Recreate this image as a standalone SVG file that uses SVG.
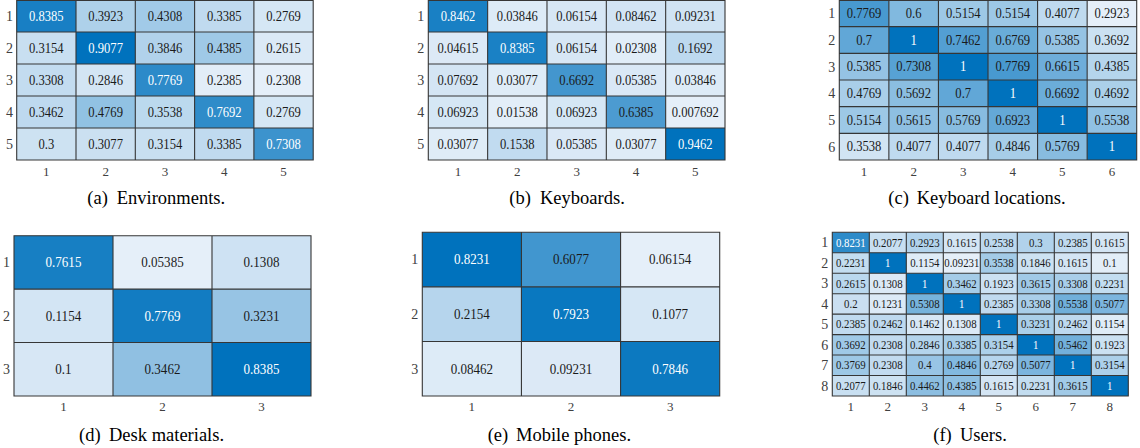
<svg xmlns="http://www.w3.org/2000/svg" width="1140" height="448" viewBox="0 0 1140 448">
<style>
  .bg { fill: #E5EFF9; }
  .c { fill: #0072BD; }
  .grid { fill: none; stroke: #363636; stroke-width: 1.1; }
  .v { font-family: "Liberation Serif", "Times New Roman", serif; font-size: 14px; text-anchor: middle; fill: #1a1a1a; }
  .vb { font-size: 14.5px; }
  .vs { font-size: 12px; }
  .w { fill: #ffffff; }
  .tick { font-family: "Liberation Serif", "Times New Roman", serif; font-size: 13px; fill: #404040; text-anchor: middle; }
  .row { font-family: "Liberation Serif", "Times New Roman", serif; font-size: 14px; fill: #404040; text-anchor: end; }
  .cap { font-family: "Liberation Serif", "Times New Roman", serif; font-size: 18.5px; fill: #000000; }
</style>

<!-- (a) Environments: 5x5 -->
<g id="panel-a">
  <rect class="bg" x="16.7" y="0.5" width="296.5" height="159.5"/>
  <g class="cells">
    <rect class="c" x="16.7" y="0" width="59.3" height="32" fill-opacity="0.898"/>
    <rect class="c" x="76" y="0" width="59.3" height="32" fill-opacity="0.239"/>
    <rect class="c" x="135.3" y="0" width="59.3" height="32" fill-opacity="0.295"/>
    <rect class="c" x="194.6" y="0" width="59.3" height="32" fill-opacity="0.159"/>
    <rect class="c" x="253.9" y="0" width="59.3" height="32" fill-opacity="0.068"/>
    <rect class="c" x="16.7" y="32" width="59.3" height="32" fill-opacity="0.125"/>
    <rect class="c" x="76" y="32" width="59.3" height="32" fill-opacity="1"/>
    <rect class="c" x="135.3" y="32" width="59.3" height="32" fill-opacity="0.227"/>
    <rect class="c" x="194.6" y="32" width="59.3" height="32" fill-opacity="0.307"/>
    <rect class="c" x="253.9" y="32" width="59.3" height="32" fill-opacity="0.045"/>
    <rect class="c" x="16.7" y="64" width="59.3" height="32" fill-opacity="0.148"/>
    <rect class="c" x="76" y="64" width="59.3" height="32" fill-opacity="0.079"/>
    <rect class="c" x="135.3" y="64" width="59.3" height="32" fill-opacity="0.807"/>
    <rect class="c" x="194.6" y="64" width="59.3" height="32" fill-opacity="0.011"/>
    <rect class="c" x="16.7" y="96" width="59.3" height="32" fill-opacity="0.170"/>
    <rect class="c" x="76" y="96" width="59.3" height="32" fill-opacity="0.364"/>
    <rect class="c" x="135.3" y="96" width="59.3" height="32" fill-opacity="0.182"/>
    <rect class="c" x="194.6" y="96" width="59.3" height="32" fill-opacity="0.795"/>
    <rect class="c" x="253.9" y="96" width="59.3" height="32" fill-opacity="0.068"/>
    <rect class="c" x="16.7" y="128" width="59.3" height="32" fill-opacity="0.102"/>
    <rect class="c" x="76" y="128" width="59.3" height="32" fill-opacity="0.114"/>
    <rect class="c" x="135.3" y="128" width="59.3" height="32" fill-opacity="0.125"/>
    <rect class="c" x="194.6" y="128" width="59.3" height="32" fill-opacity="0.159"/>
    <rect class="c" x="253.9" y="128" width="59.3" height="32" fill-opacity="0.739"/>
  </g>
  <path class="grid" d="M16.7 0.5H313.2V160H16.7Z M76 0.5V160 M135.3 0.5V160 M194.6 0.5V160 M253.9 0.5V160 M16.7 32H313.2 M16.7 64H313.2 M16.7 96H313.2 M16.7 128H313.2"/>
  <g transform="scale(0.9 1)">
    <text class="v w" x="51.50" y="20.7">0.8385</text>
    <text class="v" x="117.39" y="20.7">0.3923</text>
    <text class="v" x="183.28" y="20.7">0.4308</text>
    <text class="v" x="249.17" y="20.7">0.3385</text>
    <text class="v" x="315.06" y="20.7">0.2769</text>
    <text class="v" x="51.50" y="52.7">0.3154</text>
    <text class="v w" x="117.39" y="52.7">0.9077</text>
    <text class="v" x="183.28" y="52.7">0.3846</text>
    <text class="v" x="249.17" y="52.7">0.4385</text>
    <text class="v" x="315.06" y="52.7">0.2615</text>
    <text class="v" x="51.50" y="84.7">0.3308</text>
    <text class="v" x="117.39" y="84.7">0.2846</text>
    <text class="v w" x="183.28" y="84.7">0.7769</text>
    <text class="v" x="249.17" y="84.7">0.2385</text>
    <text class="v" x="315.06" y="84.7">0.2308</text>
    <text class="v" x="51.50" y="116.7">0.3462</text>
    <text class="v" x="117.39" y="116.7">0.4769</text>
    <text class="v" x="183.28" y="116.7">0.3538</text>
    <text class="v w" x="249.17" y="116.7">0.7692</text>
    <text class="v" x="315.06" y="116.7">0.2769</text>
    <text class="v" x="51.50" y="148.7">0.3</text>
    <text class="v" x="117.39" y="148.7">0.3077</text>
    <text class="v" x="183.28" y="148.7">0.3154</text>
    <text class="v" x="249.17" y="148.7">0.3385</text>
    <text class="v w" x="315.06" y="148.7">0.7308</text>
  </g>
  <text class="row" x="13" y="20.8">1</text>
  <text class="row" x="13" y="52.8">2</text>
  <text class="row" x="13" y="84.8">3</text>
  <text class="row" x="13" y="116.8">4</text>
  <text class="row" x="13" y="148.8">5</text>
  <text class="tick" x="46.35" y="175.5">1</text>
  <text class="tick" x="105.65" y="175.5">2</text>
  <text class="tick" x="164.95" y="175.5">3</text>
  <text class="tick" x="224.25" y="175.5">4</text>
  <text class="tick" x="283.55" y="175.5">5</text>
  <text class="cap" y="203.5"><tspan x="87.3">(a)</tspan><tspan x="116.7">Environments.</tspan></text>
</g>

<!-- (b) Keyboards: 5x5 -->
<g id="panel-b">
  <rect class="bg" x="428.3" y="0.5" width="296.7" height="159.5"/>
  <g class="cells">
    <rect class="c" x="428.3" y="0" width="59.34" height="32" fill-opacity="0.893"/>
    <rect class="c" x="487.64" y="0" width="59.34" height="32" fill-opacity="0.033"/>
    <rect class="c" x="546.98" y="0" width="59.34" height="32" fill-opacity="0.057"/>
    <rect class="c" x="606.32" y="0" width="59.34" height="32" fill-opacity="0.082"/>
    <rect class="c" x="665.66" y="0" width="59.34" height="32" fill-opacity="0.090"/>
    <rect class="c" x="428.3" y="32" width="59.34" height="32" fill-opacity="0.041"/>
    <rect class="c" x="487.64" y="32" width="59.34" height="32" fill-opacity="0.885"/>
    <rect class="c" x="546.98" y="32" width="59.34" height="32" fill-opacity="0.057"/>
    <rect class="c" x="606.32" y="32" width="59.34" height="32" fill-opacity="0.016"/>
    <rect class="c" x="665.66" y="32" width="59.34" height="32" fill-opacity="0.172"/>
    <rect class="c" x="428.3" y="64" width="59.34" height="32" fill-opacity="0.074"/>
    <rect class="c" x="487.64" y="64" width="59.34" height="32" fill-opacity="0.025"/>
    <rect class="c" x="546.98" y="64" width="59.34" height="32" fill-opacity="0.705"/>
    <rect class="c" x="606.32" y="64" width="59.34" height="32" fill-opacity="0.049"/>
    <rect class="c" x="665.66" y="64" width="59.34" height="32" fill-opacity="0.033"/>
    <rect class="c" x="428.3" y="96" width="59.34" height="32" fill-opacity="0.066"/>
    <rect class="c" x="487.64" y="96" width="59.34" height="32" fill-opacity="0.008"/>
    <rect class="c" x="546.98" y="96" width="59.34" height="32" fill-opacity="0.066"/>
    <rect class="c" x="606.32" y="96" width="59.34" height="32" fill-opacity="0.672"/>
    <rect class="c" x="428.3" y="128" width="59.34" height="32" fill-opacity="0.025"/>
    <rect class="c" x="487.64" y="128" width="59.34" height="32" fill-opacity="0.156"/>
    <rect class="c" x="546.98" y="128" width="59.34" height="32" fill-opacity="0.049"/>
    <rect class="c" x="606.32" y="128" width="59.34" height="32" fill-opacity="0.025"/>
    <rect class="c" x="665.66" y="128" width="59.34" height="32" fill-opacity="1"/>
  </g>
  <path class="grid" d="M428.3 0.5H725V160H428.3Z M487.64 0.5V160 M546.98 0.5V160 M606.32 0.5V160 M665.66 0.5V160 M428.3 32H725 M428.3 64H725 M428.3 96H725 M428.3 128H725"/>
  <g transform="scale(0.9 1)">
    <text class="v w" x="508.86" y="20.7">0.8462</text>
    <text class="v" x="574.79" y="20.7">0.03846</text>
    <text class="v" x="640.72" y="20.7">0.06154</text>
    <text class="v" x="706.66" y="20.7">0.08462</text>
    <text class="v" x="772.59" y="20.7">0.09231</text>
    <text class="v" x="508.86" y="52.7">0.04615</text>
    <text class="v w" x="574.79" y="52.7">0.8385</text>
    <text class="v" x="640.72" y="52.7">0.06154</text>
    <text class="v" x="706.66" y="52.7">0.02308</text>
    <text class="v" x="772.59" y="52.7">0.1692</text>
    <text class="v" x="508.86" y="84.7">0.07692</text>
    <text class="v" x="574.79" y="84.7">0.03077</text>
    <text class="v" x="640.72" y="84.7">0.6692</text>
    <text class="v" x="706.66" y="84.7">0.05385</text>
    <text class="v" x="772.59" y="84.7">0.03846</text>
    <text class="v" x="508.86" y="116.7">0.06923</text>
    <text class="v" x="574.79" y="116.7">0.01538</text>
    <text class="v" x="640.72" y="116.7">0.06923</text>
    <text class="v" x="706.66" y="116.7">0.6385</text>
    <text class="v" x="772.59" y="116.7">0.007692</text>
    <text class="v" x="508.86" y="148.7">0.03077</text>
    <text class="v" x="574.79" y="148.7">0.1538</text>
    <text class="v" x="640.72" y="148.7">0.05385</text>
    <text class="v" x="706.66" y="148.7">0.03077</text>
    <text class="v w" x="772.59" y="148.7">0.9462</text>
  </g>
  <text class="row" x="424.3" y="20.8">1</text>
  <text class="row" x="424.3" y="52.8">2</text>
  <text class="row" x="424.3" y="84.8">3</text>
  <text class="row" x="424.3" y="116.8">4</text>
  <text class="row" x="424.3" y="148.8">5</text>
  <text class="tick" x="457.97" y="175.5">1</text>
  <text class="tick" x="517.31" y="175.5">2</text>
  <text class="tick" x="576.65" y="175.5">3</text>
  <text class="tick" x="635.99" y="175.5">4</text>
  <text class="tick" x="695.33" y="175.5">5</text>
  <text class="cap" y="203.5"><tspan x="509.3">(b)</tspan><tspan x="540">Keyboards.</tspan></text>
</g>

<!-- (c) Keyboard locations: 6x6 -->
<g id="panel-c">
  <rect class="bg" x="839.3" y="0.5" width="297.4" height="159.5"/>
  <g class="cells">
    <rect class="c" x="839.3" y="0" width="49.57" height="26.67" fill-opacity="0.685"/>
    <rect class="c" x="888.87" y="0" width="49.57" height="26.67" fill-opacity="0.435"/>
    <rect class="c" x="938.44" y="0" width="49.57" height="26.67" fill-opacity="0.315"/>
    <rect class="c" x="988.01" y="0" width="49.57" height="26.67" fill-opacity="0.315"/>
    <rect class="c" x="1037.58" y="0" width="49.57" height="26.67" fill-opacity="0.163"/>
    <rect class="c" x="839.3" y="26.67" width="49.57" height="26.67" fill-opacity="0.576"/>
    <rect class="c" x="888.87" y="26.67" width="49.57" height="26.67" fill-opacity="1"/>
    <rect class="c" x="938.44" y="26.67" width="49.57" height="26.67" fill-opacity="0.641"/>
    <rect class="c" x="988.01" y="26.67" width="49.57" height="26.67" fill-opacity="0.543"/>
    <rect class="c" x="1037.58" y="26.67" width="49.57" height="26.67" fill-opacity="0.348"/>
    <rect class="c" x="1087.15" y="26.67" width="49.57" height="26.67" fill-opacity="0.109"/>
    <rect class="c" x="839.3" y="53.33" width="49.57" height="26.67" fill-opacity="0.348"/>
    <rect class="c" x="888.87" y="53.33" width="49.57" height="26.67" fill-opacity="0.620"/>
    <rect class="c" x="938.44" y="53.33" width="49.57" height="26.67" fill-opacity="1"/>
    <rect class="c" x="988.01" y="53.33" width="49.57" height="26.67" fill-opacity="0.685"/>
    <rect class="c" x="1037.58" y="53.33" width="49.57" height="26.67" fill-opacity="0.522"/>
    <rect class="c" x="1087.15" y="53.33" width="49.57" height="26.67" fill-opacity="0.207"/>
    <rect class="c" x="839.3" y="80" width="49.57" height="26.67" fill-opacity="0.261"/>
    <rect class="c" x="888.87" y="80" width="49.57" height="26.67" fill-opacity="0.391"/>
    <rect class="c" x="938.44" y="80" width="49.57" height="26.67" fill-opacity="0.576"/>
    <rect class="c" x="988.01" y="80" width="49.57" height="26.67" fill-opacity="1"/>
    <rect class="c" x="1037.58" y="80" width="49.57" height="26.67" fill-opacity="0.533"/>
    <rect class="c" x="1087.15" y="80" width="49.57" height="26.67" fill-opacity="0.250"/>
    <rect class="c" x="839.3" y="106.67" width="49.57" height="26.67" fill-opacity="0.315"/>
    <rect class="c" x="888.87" y="106.67" width="49.57" height="26.67" fill-opacity="0.380"/>
    <rect class="c" x="938.44" y="106.67" width="49.57" height="26.67" fill-opacity="0.402"/>
    <rect class="c" x="988.01" y="106.67" width="49.57" height="26.67" fill-opacity="0.565"/>
    <rect class="c" x="1037.58" y="106.67" width="49.57" height="26.67" fill-opacity="1"/>
    <rect class="c" x="1087.15" y="106.67" width="49.57" height="26.67" fill-opacity="0.370"/>
    <rect class="c" x="839.3" y="133.33" width="49.57" height="26.67" fill-opacity="0.087"/>
    <rect class="c" x="888.87" y="133.33" width="49.57" height="26.67" fill-opacity="0.163"/>
    <rect class="c" x="938.44" y="133.33" width="49.57" height="26.67" fill-opacity="0.163"/>
    <rect class="c" x="988.01" y="133.33" width="49.57" height="26.67" fill-opacity="0.272"/>
    <rect class="c" x="1037.58" y="133.33" width="49.57" height="26.67" fill-opacity="0.402"/>
    <rect class="c" x="1087.15" y="133.33" width="49.57" height="26.67" fill-opacity="1"/>
  </g>
  <path class="grid" d="M839.3 0.5H1136.7V160H839.3Z M888.87 0.5V160 M938.44 0.5V160 M988.01 0.5V160 M1037.58 0.5V160 M1087.15 0.5V160 M839.3 26.67H1136.7 M839.3 53.33H1136.7 M839.3 80H1136.7 M839.3 106.67H1136.7 M839.3 133.33H1136.7"/>
  <g transform="scale(0.9 1)">
    <text class="v" x="960.09" y="18.0">0.7769</text>
    <text class="v" x="1015.17" y="18.0">0.6</text>
    <text class="v" x="1070.24" y="18.0">0.5154</text>
    <text class="v" x="1125.32" y="18.0">0.5154</text>
    <text class="v" x="1180.40" y="18.0">0.4077</text>
    <text class="v" x="1235.48" y="18.0">0.2923</text>
    <text class="v" x="960.09" y="44.7">0.7</text>
    <text class="v w" x="1015.17" y="44.7">1</text>
    <text class="v" x="1070.24" y="44.7">0.7462</text>
    <text class="v" x="1125.32" y="44.7">0.6769</text>
    <text class="v" x="1180.40" y="44.7">0.5385</text>
    <text class="v" x="1235.48" y="44.7">0.3692</text>
    <text class="v" x="960.09" y="71.4">0.5385</text>
    <text class="v" x="1015.17" y="71.4">0.7308</text>
    <text class="v w" x="1070.24" y="71.4">1</text>
    <text class="v" x="1125.32" y="71.4">0.7769</text>
    <text class="v" x="1180.40" y="71.4">0.6615</text>
    <text class="v" x="1235.48" y="71.4">0.4385</text>
    <text class="v" x="960.09" y="98.0">0.4769</text>
    <text class="v" x="1015.17" y="98.0">0.5692</text>
    <text class="v" x="1070.24" y="98.0">0.7</text>
    <text class="v w" x="1125.32" y="98.0">1</text>
    <text class="v" x="1180.40" y="98.0">0.6692</text>
    <text class="v" x="1235.48" y="98.0">0.4692</text>
    <text class="v" x="960.09" y="124.7">0.5154</text>
    <text class="v" x="1015.17" y="124.7">0.5615</text>
    <text class="v" x="1070.24" y="124.7">0.5769</text>
    <text class="v" x="1125.32" y="124.7">0.6923</text>
    <text class="v w" x="1180.40" y="124.7">1</text>
    <text class="v" x="1235.48" y="124.7">0.5538</text>
    <text class="v" x="960.09" y="151.4">0.3538</text>
    <text class="v" x="1015.17" y="151.4">0.4077</text>
    <text class="v" x="1070.24" y="151.4">0.4077</text>
    <text class="v" x="1125.32" y="151.4">0.4846</text>
    <text class="v" x="1180.40" y="151.4">0.5769</text>
    <text class="v w" x="1235.48" y="151.4">1</text>
  </g>
  <text class="row" x="835.3" y="18.1">1</text>
  <text class="row" x="835.3" y="44.8">2</text>
  <text class="row" x="835.3" y="71.5">3</text>
  <text class="row" x="835.3" y="98.1">4</text>
  <text class="row" x="835.3" y="124.8">5</text>
  <text class="row" x="835.3" y="151.5">6</text>
  <text class="tick" x="864.08" y="175.5">1</text>
  <text class="tick" x="913.65" y="175.5">2</text>
  <text class="tick" x="963.22" y="175.5">3</text>
  <text class="tick" x="1012.79" y="175.5">4</text>
  <text class="tick" x="1062.36" y="175.5">5</text>
  <text class="tick" x="1111.93" y="175.5">6</text>
  <text class="cap" y="203.5"><tspan x="888.3">(c)</tspan><tspan x="916.7">Keyboard locations.</tspan></text>
</g>

<!-- (d) Desk materials: 3x3 -->
<g id="panel-d">
  <rect class="bg" x="14" y="235.7" width="297" height="160.3"/>
  <g class="cells">
    <rect class="c" x="14" y="235.7" width="99" height="53.43" fill-opacity="0.902"/>
    <rect class="c" x="212" y="235.7" width="99" height="53.43" fill-opacity="0.098"/>
    <rect class="c" x="14" y="289.13" width="99" height="53.43" fill-opacity="0.078"/>
    <rect class="c" x="113" y="289.13" width="99" height="53.43" fill-opacity="0.922"/>
    <rect class="c" x="212" y="289.13" width="99" height="53.43" fill-opacity="0.343"/>
    <rect class="c" x="14" y="342.57" width="99" height="53.43" fill-opacity="0.059"/>
    <rect class="c" x="113" y="342.57" width="99" height="53.43" fill-opacity="0.373"/>
    <rect class="c" x="212" y="342.57" width="99" height="53.43" fill-opacity="1"/>
  </g>
  <path class="grid" d="M14 235.7H311V396H14Z M113 235.7V396 M212 235.7V396 M14 289.13H311 M14 342.57H311"/>
  <g transform="scale(0.9 1)">
    <text class="v vb w" x="70.56" y="267.3">0.7615</text>
    <text class="v vb" x="180.56" y="267.3">0.05385</text>
    <text class="v vb" x="290.56" y="267.3">0.1308</text>
    <text class="v vb" x="70.56" y="320.8">0.1154</text>
    <text class="v vb w" x="180.56" y="320.8">0.7769</text>
    <text class="v vb" x="290.56" y="320.8">0.3231</text>
    <text class="v vb" x="70.56" y="374.2">0.1</text>
    <text class="v vb" x="180.56" y="374.2">0.3462</text>
    <text class="v vb w" x="290.56" y="374.2">0.8385</text>
  </g>
  <text class="row" x="10" y="267.2">1</text>
  <text class="row" x="10" y="320.7">2</text>
  <text class="row" x="10" y="374.1">3</text>
  <text class="tick" x="63.5" y="410.5">1</text>
  <text class="tick" x="162.5" y="410.5">2</text>
  <text class="tick" x="261.5" y="410.5">3</text>
  <text class="cap" y="440.5"><tspan x="79">(d)</tspan><tspan x="109">Desk materials.</tspan></text>
</g>

<!-- (e) Mobile phones: 3x3 -->
<g id="panel-e">
  <rect class="bg" x="422.3" y="232.3" width="297.4" height="163.7"/>
  <g class="cells">
    <rect class="c" x="422.3" y="232.3" width="99.13" height="54.57" fill-opacity="1"/>
    <rect class="c" x="521.43" y="232.3" width="99.13" height="54.57" fill-opacity="0.717"/>
    <rect class="c" x="422.3" y="286.87" width="99.13" height="54.57" fill-opacity="0.202"/>
    <rect class="c" x="521.43" y="286.87" width="99.13" height="54.57" fill-opacity="0.960"/>
    <rect class="c" x="620.57" y="286.87" width="99.13" height="54.57" fill-opacity="0.061"/>
    <rect class="c" x="422.3" y="341.43" width="99.13" height="54.57" fill-opacity="0.030"/>
    <rect class="c" x="521.43" y="341.43" width="99.13" height="54.57" fill-opacity="0.040"/>
    <rect class="c" x="620.57" y="341.43" width="99.13" height="54.57" fill-opacity="0.949"/>
  </g>
  <path class="grid" d="M422.3 232.3H719.7V396H422.3Z M521.43 232.3V396 M620.57 232.3V396 M422.3 286.87H719.7 M422.3 341.43H719.7"/>
  <g transform="scale(0.9 1)">
    <text class="v vb w" x="524.30" y="264.5">0.8231</text>
    <text class="v vb" x="634.44" y="264.5">0.6077</text>
    <text class="v vb" x="744.59" y="264.5">0.06154</text>
    <text class="v vb" x="524.30" y="319.1">0.2154</text>
    <text class="v vb w" x="634.44" y="319.1">0.7923</text>
    <text class="v vb" x="744.59" y="319.1">0.1077</text>
    <text class="v vb" x="524.30" y="373.6">0.08462</text>
    <text class="v vb" x="634.44" y="373.6">0.09231</text>
    <text class="v vb w" x="744.59" y="373.6">0.7846</text>
  </g>
  <text class="row" x="418.3" y="264.4">1</text>
  <text class="row" x="418.3" y="319">2</text>
  <text class="row" x="418.3" y="373.5">3</text>
  <text class="tick" x="471.87" y="410.5">1</text>
  <text class="tick" x="571" y="410.5">2</text>
  <text class="tick" x="670.13" y="410.5">3</text>
  <text class="cap" y="440.5"><tspan x="487.7">(e)</tspan><tspan x="516">Mobile phones.</tspan></text>
</g>

<!-- (f) Users: 8x8 -->
<g id="panel-f">
  <rect class="bg" x="832.3" y="232.3" width="296" height="163.7"/>
  <g class="cells">
    <!-- row 1 -->
    <rect class="c" x="832.3" y="232.3" width="37" height="20.46" fill-opacity="0.805"/>
    <rect class="c" x="869.3" y="232.3" width="37" height="20.46" fill-opacity="0.127"/>
    <rect class="c" x="906.3" y="232.3" width="37" height="20.46" fill-opacity="0.220"/>
    <rect class="c" x="943.3" y="232.3" width="37" height="20.46" fill-opacity="0.076"/>
    <rect class="c" x="980.3" y="232.3" width="37" height="20.46" fill-opacity="0.178"/>
    <rect class="c" x="1017.3" y="232.3" width="37" height="20.46" fill-opacity="0.229"/>
    <rect class="c" x="1054.3" y="232.3" width="37" height="20.46" fill-opacity="0.161"/>
    <rect class="c" x="1091.3" y="232.3" width="37" height="20.46" fill-opacity="0.076"/>
    <!-- row 2 -->
    <rect class="c" x="832.3" y="252.76" width="37" height="20.46" fill-opacity="0.144"/>
    <rect class="c" x="869.3" y="252.76" width="37" height="20.46" fill-opacity="1"/>
    <rect class="c" x="906.3" y="252.76" width="37" height="20.46" fill-opacity="0.025"/>
    <rect class="c" x="980.3" y="252.76" width="37" height="20.46" fill-opacity="0.288"/>
    <rect class="c" x="1017.3" y="252.76" width="37" height="20.46" fill-opacity="0.102"/>
    <rect class="c" x="1054.3" y="252.76" width="37" height="20.46" fill-opacity="0.076"/>
    <rect class="c" x="1091.3" y="252.76" width="37" height="20.46" fill-opacity="0.008"/>
    <!-- row 3 -->
    <rect class="c" x="832.3" y="273.22" width="37" height="20.46" fill-opacity="0.186"/>
    <rect class="c" x="869.3" y="273.22" width="37" height="20.46" fill-opacity="0.042"/>
    <rect class="c" x="906.3" y="273.22" width="37" height="20.46" fill-opacity="1"/>
    <rect class="c" x="943.3" y="273.22" width="37" height="20.46" fill-opacity="0.280"/>
    <rect class="c" x="980.3" y="273.22" width="37" height="20.46" fill-opacity="0.110"/>
    <rect class="c" x="1017.3" y="273.22" width="37" height="20.46" fill-opacity="0.297"/>
    <rect class="c" x="1054.3" y="273.22" width="37" height="20.46" fill-opacity="0.263"/>
    <rect class="c" x="1091.3" y="273.22" width="37" height="20.46" fill-opacity="0.144"/>
    <!-- row 4 -->
    <rect class="c" x="832.3" y="293.68" width="37" height="20.46" fill-opacity="0.119"/>
    <rect class="c" x="869.3" y="293.68" width="37" height="20.46" fill-opacity="0.034"/>
    <rect class="c" x="906.3" y="293.68" width="37" height="20.46" fill-opacity="0.483"/>
    <rect class="c" x="943.3" y="293.68" width="37" height="20.46" fill-opacity="1"/>
    <rect class="c" x="980.3" y="293.68" width="37" height="20.46" fill-opacity="0.161"/>
    <rect class="c" x="1017.3" y="293.68" width="37" height="20.46" fill-opacity="0.263"/>
    <rect class="c" x="1054.3" y="293.68" width="37" height="20.46" fill-opacity="0.508"/>
    <rect class="c" x="1091.3" y="293.68" width="37" height="20.46" fill-opacity="0.458"/>
    <!-- row 5 -->
    <rect class="c" x="832.3" y="314.14" width="37" height="20.46" fill-opacity="0.161"/>
    <rect class="c" x="869.3" y="314.14" width="37" height="20.46" fill-opacity="0.170"/>
    <rect class="c" x="906.3" y="314.14" width="37" height="20.46" fill-opacity="0.059"/>
    <rect class="c" x="943.3" y="314.14" width="37" height="20.46" fill-opacity="0.042"/>
    <rect class="c" x="980.3" y="314.14" width="37" height="20.46" fill-opacity="1"/>
    <rect class="c" x="1017.3" y="314.14" width="37" height="20.46" fill-opacity="0.254"/>
    <rect class="c" x="1054.3" y="314.14" width="37" height="20.46" fill-opacity="0.170"/>
    <rect class="c" x="1091.3" y="314.14" width="37" height="20.46" fill-opacity="0.025"/>
    <!-- row 6 -->
    <rect class="c" x="832.3" y="334.6" width="37" height="20.46" fill-opacity="0.305"/>
    <rect class="c" x="869.3" y="334.6" width="37" height="20.46" fill-opacity="0.153"/>
    <rect class="c" x="906.3" y="334.6" width="37" height="20.46" fill-opacity="0.212"/>
    <rect class="c" x="943.3" y="334.6" width="37" height="20.46" fill-opacity="0.271"/>
    <rect class="c" x="980.3" y="334.6" width="37" height="20.46" fill-opacity="0.246"/>
    <rect class="c" x="1017.3" y="334.6" width="37" height="20.46" fill-opacity="1"/>
    <rect class="c" x="1054.3" y="334.6" width="37" height="20.46" fill-opacity="0.500"/>
    <rect class="c" x="1091.3" y="334.6" width="37" height="20.46" fill-opacity="0.110"/>
    <!-- row 7 -->
    <rect class="c" x="832.3" y="355.06" width="37" height="20.46" fill-opacity="0.314"/>
    <rect class="c" x="869.3" y="355.06" width="37" height="20.46" fill-opacity="0.153"/>
    <rect class="c" x="906.3" y="355.06" width="37" height="20.46" fill-opacity="0.339"/>
    <rect class="c" x="943.3" y="355.06" width="37" height="20.46" fill-opacity="0.432"/>
    <rect class="c" x="980.3" y="355.06" width="37" height="20.46" fill-opacity="0.203"/>
    <rect class="c" x="1017.3" y="355.06" width="37" height="20.46" fill-opacity="0.458"/>
    <rect class="c" x="1054.3" y="355.06" width="37" height="20.46" fill-opacity="1"/>
    <rect class="c" x="1091.3" y="355.06" width="37" height="20.46" fill-opacity="0.246"/>
    <!-- row 8 -->
    <rect class="c" x="832.3" y="375.52" width="37" height="20.48" fill-opacity="0.127"/>
    <rect class="c" x="869.3" y="375.52" width="37" height="20.48" fill-opacity="0.102"/>
    <rect class="c" x="906.3" y="375.52" width="37" height="20.48" fill-opacity="0.390"/>
    <rect class="c" x="943.3" y="375.52" width="37" height="20.48" fill-opacity="0.381"/>
    <rect class="c" x="980.3" y="375.52" width="37" height="20.48" fill-opacity="0.076"/>
    <rect class="c" x="1017.3" y="375.52" width="37" height="20.48" fill-opacity="0.144"/>
    <rect class="c" x="1054.3" y="375.52" width="37" height="20.48" fill-opacity="0.297"/>
    <rect class="c" x="1091.3" y="375.52" width="37" height="20.48" fill-opacity="1"/>
  </g>
  <path class="grid" d="M832.3 232.3H1128.3V396H832.3Z M869.3 232.3V396 M906.3 232.3V396 M943.3 232.3V396 M980.3 232.3V396 M1017.3 232.3V396 M1054.3 232.3V396 M1091.3 232.3V396 M832.3 252.76H1128.3 M832.3 273.22H1128.3 M832.3 293.68H1128.3 M832.3 314.14H1128.3 M832.3 334.6H1128.3 M832.3 355.06H1128.3 M832.3 375.52H1128.3"/>
  <g transform="scale(0.9 1)">
    <text class="v vs w" x="945.33" y="246.6">0.8231</text>
    <text class="v vs" x="986.44" y="246.6">0.2077</text>
    <text class="v vs" x="1027.56" y="246.6">0.2923</text>
    <text class="v vs" x="1068.67" y="246.6">0.1615</text>
    <text class="v vs" x="1109.78" y="246.6">0.2538</text>
    <text class="v vs" x="1150.89" y="246.6">0.3</text>
    <text class="v vs" x="1192.00" y="246.6">0.2385</text>
    <text class="v vs" x="1233.11" y="246.6">0.1615</text>

    <text class="v vs" x="945.33" y="267.1">0.2231</text>
    <text class="v vs w" x="986.44" y="267.1">1</text>
    <text class="v vs" x="1027.56" y="267.1">0.1154</text>
    <text class="v vs" x="1068.67" y="267.1">0.09231</text>
    <text class="v vs" x="1109.78" y="267.1">0.3538</text>
    <text class="v vs" x="1150.89" y="267.1">0.1846</text>
    <text class="v vs" x="1192.00" y="267.1">0.1615</text>
    <text class="v vs" x="1233.11" y="267.1">0.1</text>

    <text class="v vs" x="945.33" y="287.6">0.2615</text>
    <text class="v vs" x="986.44" y="287.6">0.1308</text>
    <text class="v vs w" x="1027.56" y="287.6">1</text>
    <text class="v vs" x="1068.67" y="287.6">0.3462</text>
    <text class="v vs" x="1109.78" y="287.6">0.1923</text>
    <text class="v vs" x="1150.89" y="287.6">0.3615</text>
    <text class="v vs" x="1192.00" y="287.6">0.3308</text>
    <text class="v vs" x="1233.11" y="287.6">0.2231</text>

    <text class="v vs" x="945.33" y="308.0">0.2</text>
    <text class="v vs" x="986.44" y="308.0">0.1231</text>
    <text class="v vs" x="1027.56" y="308.0">0.5308</text>
    <text class="v vs w" x="1068.67" y="308.0">1</text>
    <text class="v vs" x="1109.78" y="308.0">0.2385</text>
    <text class="v vs" x="1150.89" y="308.0">0.3308</text>
    <text class="v vs" x="1192.00" y="308.0">0.5538</text>
    <text class="v vs" x="1233.11" y="308.0">0.5077</text>

    <text class="v vs" x="945.33" y="328.5">0.2385</text>
    <text class="v vs" x="986.44" y="328.5">0.2462</text>
    <text class="v vs" x="1027.56" y="328.5">0.1462</text>
    <text class="v vs" x="1068.67" y="328.5">0.1308</text>
    <text class="v vs w" x="1109.78" y="328.5">1</text>
    <text class="v vs" x="1150.89" y="328.5">0.3231</text>
    <text class="v vs" x="1192.00" y="328.5">0.2462</text>
    <text class="v vs" x="1233.11" y="328.5">0.1154</text>

    <text class="v vs" x="945.33" y="348.9">0.3692</text>
    <text class="v vs" x="986.44" y="348.9">0.2308</text>
    <text class="v vs" x="1027.56" y="348.9">0.2846</text>
    <text class="v vs" x="1068.67" y="348.9">0.3385</text>
    <text class="v vs" x="1109.78" y="348.9">0.3154</text>
    <text class="v vs w" x="1150.89" y="348.9">1</text>
    <text class="v vs" x="1192.00" y="348.9">0.5462</text>
    <text class="v vs" x="1233.11" y="348.9">0.1923</text>

    <text class="v vs" x="945.33" y="369.4">0.3769</text>
    <text class="v vs" x="986.44" y="369.4">0.2308</text>
    <text class="v vs" x="1027.56" y="369.4">0.4</text>
    <text class="v vs" x="1068.67" y="369.4">0.4846</text>
    <text class="v vs" x="1109.78" y="369.4">0.2769</text>
    <text class="v vs" x="1150.89" y="369.4">0.5077</text>
    <text class="v vs w" x="1192.00" y="369.4">1</text>
    <text class="v vs" x="1233.11" y="369.4">0.3154</text>

    <text class="v vs" x="945.33" y="389.9">0.2077</text>
    <text class="v vs" x="986.44" y="389.9">0.1846</text>
    <text class="v vs" x="1027.56" y="389.9">0.4462</text>
    <text class="v vs" x="1068.67" y="389.9">0.4385</text>
    <text class="v vs" x="1109.78" y="389.9">0.1615</text>
    <text class="v vs" x="1150.89" y="389.9">0.2231</text>
    <text class="v vs" x="1192.00" y="389.9">0.3615</text>
    <text class="v vs w" x="1233.11" y="389.9">1</text>
  </g>
  <text class="row" x="828.3" y="247.3">1</text>
  <text class="row" x="828.3" y="267.8">2</text>
  <text class="row" x="828.3" y="288.3">3</text>
  <text class="row" x="828.3" y="308.7">4</text>
  <text class="row" x="828.3" y="329.2">5</text>
  <text class="row" x="828.3" y="349.6">6</text>
  <text class="row" x="828.3" y="370.1">7</text>
  <text class="row" x="828.3" y="390.6">8</text>
  <text class="tick" x="850.8" y="410.5">1</text>
  <text class="tick" x="887.8" y="410.5">2</text>
  <text class="tick" x="924.8" y="410.5">3</text>
  <text class="tick" x="961.8" y="410.5">4</text>
  <text class="tick" x="998.8" y="410.5">5</text>
  <text class="tick" x="1035.8" y="410.5">6</text>
  <text class="tick" x="1072.8" y="410.5">7</text>
  <text class="tick" x="1109.8" y="410.5">8</text>
  <text class="cap" y="440.5"><tspan x="933.3">(f)</tspan><tspan x="960">Users.</tspan></text>
</g>
</svg>
